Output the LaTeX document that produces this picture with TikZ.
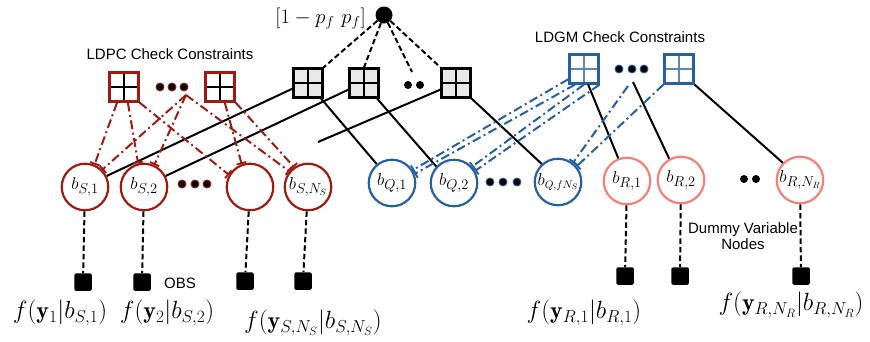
\documentclass[tikz,border=0pt]{standalone}
\usepackage{fontspec}
\setsansfont{Liberation Sans}
\usetikzlibrary{arrows.meta}
\definecolor{ldpcred}{RGB}{158,27,18}
\definecolor{ldgmblue}{RGB}{38,96,160}
\definecolor{rpink}{RGB}{244,128,118}
\definecolor{chkgray}{RGB}{232,232,232}
\tikzset{
  chkbox/.style={draw, line width=2.2pt, minimum size=29pt, inner sep=0pt,
    path picture={\draw[line width=1.1pt,#1]
      (path picture bounding box.north) -- (path picture bounding box.south)
      (path picture bounding box.west) -- (path picture bounding box.east);}},
  varnode/.style={circle, line width=2.2pt, minimum size=46.5pt, inner sep=0pt,
    font=\fontsize{19}{22}\selectfont},
  obsbox/.style={fill=black, rounded corners=1.5pt, minimum size=17.5pt, inner sep=0pt},
  dotn/.style={circle, fill=black, minimum size=8pt, inner sep=0pt, line width=0.9pt},
  solidl/.style={line width=2pt},
  dashl/.style={line width=2pt, dash pattern=on 5.5pt off 3pt},
  ddl/.style={line width=2pt, dash pattern=on 9pt off 3.5pt on 2pt off 3.5pt,
    -{Bar[width=10pt,line width=1.8pt]}},
  mathlbl/.style={font=\fontsize{24}{27}\selectfont, inner sep=0pt},
  sanslbl/.style={font=\sffamily\fontsize{15}{18}\selectfont, inner sep=0pt, align=center},
}
\begin{document}
\begin{tikzpicture}[x=1pt,y=-1pt]
\useasboundingbox (0,0) rectangle (870,341);

% top prior node
\node[circle, fill=black, minimum size=17pt, inner sep=0pt] (top) at (384,15) {};
\node[mathlbl, font=\fontsize{22.5}{25}\selectfont, anchor=east] (prior) at (366,19) {$[1-p_f\ p_f]$};

% gray check nodes
\node[chkbox=black, draw=black, fill=chkgray] (c1) at (308,83) {};
\node[chkbox=black, draw=black, fill=chkgray] (c2) at (364,83) {};
\node[chkbox=black, draw=black, fill=chkgray] (c3) at (456,83) {};
\node[dotn] (cd1) at (408,85) {};
\node[dotn] (cd2) at (420,85) {};
\coordinate (cdots) at (412,72);

% LDPC checks
\node[sanslbl] (ldpclbl) at (170,54) {LDPC Check Constraints};
\node[chkbox=black, draw=ldpcred, fill=white] (l1) at (124,87) {};
\node[chkbox=black, draw=ldpcred, fill=white] (l2) at (220,87) {};
\node[dotn, draw=ldpcred] (ld1) at (160,87) {};
\node[dotn, draw=ldpcred] (ld2) at (172,87) {};
\node[dotn, draw=ldpcred] (ld3) at (184,87) {};
\coordinate (pd) at (186,95);

% LDGM checks
\node[sanslbl] (ldgmlbl) at (620,37) {LDGM Check Constraints};
\node[chkbox=ldgmblue!75, draw=ldgmblue, fill=white] (g1) at (584,69) {};
\node[chkbox=ldgmblue!75, draw=ldgmblue, fill=white] (g2) at (679,69) {};
\node[dotn, draw=ldgmblue] (gd1) at (619,69) {};
\node[dotn, draw=ldgmblue] (gd2) at (632,69) {};
\node[dotn, draw=ldgmblue] (gd3) at (644,69) {};
\coordinate (pg) at (628,86);
\coordinate (gd) at (633,82);

% variable nodes
\node[varnode, draw=ldpcred] (bS1) at (85,187) {$b_{S,1}$};
\node[varnode, draw=ldpcred] (bS2) at (144,187) {$b_{S,2}$};
\node[varnode, draw=ldpcred] (bSb) at (250,187) {};
\node[varnode, draw=ldpcred] (bSN) at (308,187) {$b_{S,N_S}$};
\node[dotn, draw=ldpcred] (sd1) at (182,184) {};
\node[dotn, draw=ldpcred] (sd2) at (195,184) {};
\node[dotn, draw=ldpcred] (sd3) at (207,184) {};

\node[varnode, draw=ldgmblue] (bQ1) at (392,183) {$b_{Q,1}$};
\node[varnode, draw=ldgmblue] (bQ2) at (454,183) {$b_{Q,2}$};
\node[varnode, draw=ldgmblue, font=\fontsize{16}{19}\selectfont] (bQf) at (558,182) {$b_{Q,fN_S}$};
\node[dotn, draw=ldgmblue] (qd1) at (490,182) {};
\node[dotn, draw=ldgmblue] (qd2) at (503,182) {};
\node[dotn, draw=ldgmblue] (qd3) at (517,182) {};

\node[varnode, draw=rpink] (bR1) at (627,181) {$b_{R,1}$};
\node[varnode, draw=rpink] (bR2) at (681,180) {$b_{R,2}$};
\node[varnode, draw=rpink] (bRN) at (800,180) {$b_{R,N_R}$};
\node[dotn] (rd1) at (744,179) {};
\node[dotn] (rd2) at (756,179) {};

% observation factors
\node[obsbox] (o1) at (83,282) {};
\node[obsbox] (o2) at (142,282) {};
\node[obsbox] (o3) at (245,281) {};
\node[obsbox] (o4) at (303,281) {};
\node[obsbox] (o5) at (625,276) {};
\node[obsbox] (o6) at (680,276) {};
\node[obsbox] (o7) at (801,276) {};

% labels
\node[mathlbl] (f1) at (60,313) {$f(\mathbf{y}_1|b_{S,1})$};
\node[mathlbl] (f2) at (167,313) {$f(\mathbf{y}_2|b_{S,2})$};
\node[mathlbl] (f3) at (313,323) {$f(\mathbf{y}_{S,N_S}|b_{S,N_S})$};
\node[mathlbl] (f4) at (584,313) {$f(\mathbf{y}_{R,1}|b_{R,1})$};
\node[mathlbl] (f5) at (791,305) {$f(\mathbf{y}_{R,N_R}|b_{R,N_R})$};
\node[sanslbl] (obslbl) at (180,283) {OBS};
\node[sanslbl] (dummy) at (743,236) {Dummy Variable\\[-2pt]Nodes};

% prior edges
\draw[dashl] (top) -- (c1.north east);
\draw[dashl] (top) -- (c2.north);
\draw[dashl] (top) -- (cdots);
\draw[dashl] (top) -- (c3.north west);

% solid edges
\coordinate (free) at (318,142);
\draw[solidl] (c1.200) -- (bS1.27);
\draw[solidl] (c2.203) -- (bS2.27);
\draw[solidl] (c3.203) -- (free);
\draw[solidl] (c1.310) -- (bQ1.129);
\draw[solidl] (c2.310) -- (bQ2.137);
\draw[solidl] (c3.south east) -- (bQf.132);
\draw[solidl] (g1.285) -- (bR1.111);
\draw[solidl] (gd) -- (bR2.119);
\draw[solidl] (g2.south east) -- (bRN.135);

% LDPC edges
\draw[ddl, ldpcred] (l1.246) -- (bS1.67);
\draw[ddl, ldpcred] (l1.284) -- (bS2.104);
\draw[ddl, ldpcred] (l1.south east) -- (bSb.150);
\draw[ddl, ldpcred] (pd) -- (bS1.45);
\draw[ddl, ldpcred] (pd) -- (bS2.65);
\draw[ddl, ldpcred] (pd) -- (bSN.140);
\draw[ddl, ldpcred] (l2.287) -- (bSb.110);
\draw[ddl, ldpcred] (l2.south east) -- (bSN.125);

% LDGM edges
\draw[ddl, ldgmblue] (g1.213) -- (bQ1.32);
\draw[ddl, ldgmblue] (g1.240) -- (bQ1.22);
\draw[ddl, ldgmblue] (g1.south) -- (bQ2.42);
\draw[ddl, ldgmblue] (g1.south east) -- (bQ2.30);
\draw[ddl, ldgmblue] (pg) -- (bQf.52);
\draw[ddl, ldgmblue] (g2.south west) -- (bQf.40);

% observation edges
\draw[dashl] (bS1) -- (o1);
\draw[dashl] (bS2) -- (o2);
\draw[dashl] (bSb) -- (o3);
\draw[dashl] (bSN) -- (o4);
\draw[dashl] (bR1) -- (o5);
\draw[dashl] (bR2) -- (o6);
\draw[dashl] (bRN) -- (o7);
\end{tikzpicture}
\end{document}
